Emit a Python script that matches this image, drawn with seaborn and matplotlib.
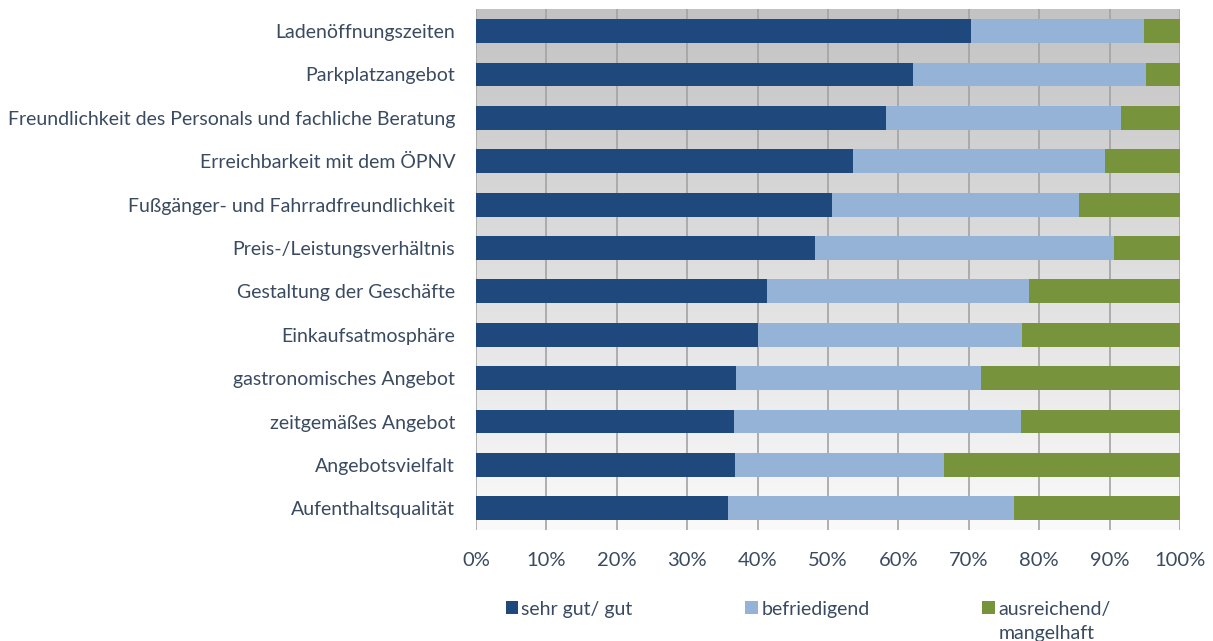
import numpy as np
import pandas as pd
import matplotlib
matplotlib.use("Agg")
import matplotlib.pyplot as plt
from matplotlib.patches import Patch
import seaborn as sns

categories = [
    "Ladenöffnungszeiten",
    "Parkplatzangebot",
    "Freundlichkeit des Personals und fachliche Beratung",
    "Erreichbarkeit mit dem ÖPNV",
    "Fußgänger- und Fahrradfreundlichkeit",
    "Preis-/Leistungsverhältnis",
    "Gestaltung der Geschäfte",
    "Einkaufsatmosphäre",
    "gastronomisches Angebot",
    "zeitgemäßes Angebot",
    "Angebotsvielfalt",
    "Aufenthaltsqualität",
]
sehr_gut = [70.3, 62.1, 58.3, 53.6, 50.6, 48.2, 41.3, 40.1, 37.0, 36.6, 36.8, 35.8]
befriedigend = [24.6, 33.1, 33.3, 35.7, 35.1, 42.4, 37.3, 37.5, 34.7, 40.8, 29.7, 40.6]
ausreichend = [5.1, 4.8, 8.4, 10.7, 14.3, 9.4, 21.4, 22.4, 28.3, 22.6, 33.5, 23.6]
series_names = ["sehr gut/ gut", "befriedigend", "ausreichend/", "mangelhaft"]
x_ticks = [0, 10, 20, 30, 40, 50, 60, 70, 80, 90, 100]

colors = ["#1f497d", "#95b3d7", "#77933c"]
text_color = "#3a4a60"
fs = 14

sns.set_theme(style="white")
plt.rcParams["font.family"] = ["Lato", "DejaVu Sans"]

df = pd.DataFrame({
    "Kategorie": categories,
    "s1": sehr_gut,
    "s2": befriedigend,
    "s3": ausreichend,
})
df["c1"] = df["s1"]
df["c2"] = df["s1"] + df["s2"]
df["c3"] = df["s1"] + df["s2"] + df["s3"]

fig = plt.figure(figsize=(12.13, 6.41), dpi=100)
ax = fig.add_axes([476 / 1213, 1 - 530 / 641, (1180 - 476) / 1213, (530 - 9.4) / 641])

# vertical gradient background of the plot area
grad = np.linspace(0, 1, 256).reshape(-1, 1)
cmap = matplotlib.colors.LinearSegmentedColormap.from_list("bg", ["#c3c3c3", "#fafafa"])
ax.imshow(grad, extent=[0, 100, 11.5, -0.5], aspect="auto", cmap=cmap, zorder=0)

for x in x_ticks:
    ax.axvline(x, color="#a3a3a3", lw=1.2, zorder=1)

# stacked bars drawn as cumulative layers, widest first
for col, c in zip(["c3", "c2", "c1"], colors[::-1]):
    sns.barplot(data=df, x=col, y="Kategorie", orient="h", color=c,
                width=0.55, saturation=1, linewidth=0, edgecolor="none",
                ax=ax, zorder=2)

ax.set_xlim(0, 100)
ax.set_ylim(11.5, -0.5)
ax.set_xticks(x_ticks)
ax.set_xticklabels([f"{v}%" for v in x_ticks])
ax.set_xlabel("")
ax.set_ylabel("")
for s in ax.spines.values():
    s.set_visible(False)
ax.tick_params(axis="x", length=0, pad=16, labelsize=14.5, labelcolor=text_color)
ax.tick_params(axis="y", length=0, pad=15, labelsize=fs, labelcolor=text_color)

handles = [Patch(facecolor=c, edgecolor="none") for c in colors]
leg = fig.legend(handles, series_names[:3], loc="center left",
                 bbox_to_anchor=(488 / 1213, 1 - 609 / 641),
                 ncol=3, frameon=False, handlelength=0.62, handleheight=0.62,
                 handletextpad=0.2, columnspacing=5.8, fontsize=fs,
                 labelcolor=text_color)

# second line of the last legend entry, placed under its first line
fig.canvas.draw()
t3 = leg.get_texts()[2]
bb = t3.get_window_extent(fig.canvas.get_renderer())
fig.text(bb.x0 / fig.bbox.width, (bb.y0 - 25 + bb.height / 2) / fig.bbox.height,
         series_names[3], fontsize=fs, color=text_color, ha="left", va="center")

fig.savefig("out.png", dpi=100)
